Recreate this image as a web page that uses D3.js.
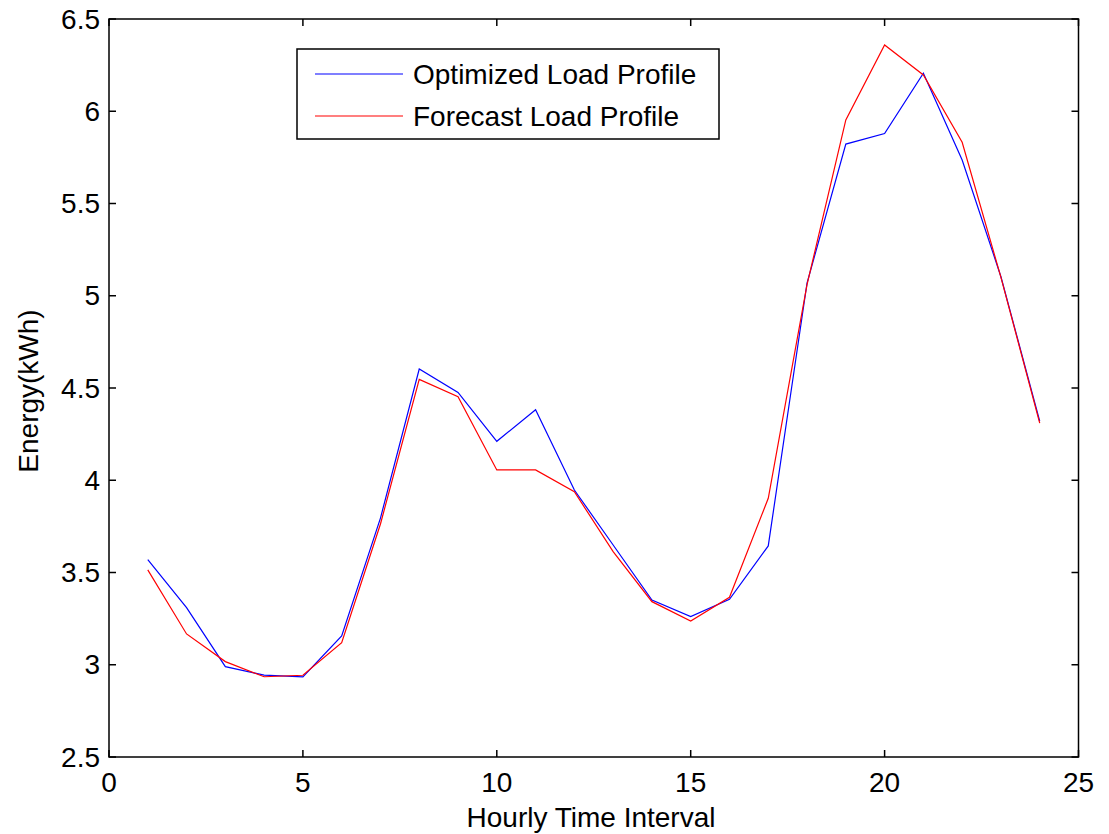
<!DOCTYPE html>
<html><head><meta charset="utf-8">
<script src="https://cdn.jsdelivr.net/npm/d3@7"></script>
<style>body{margin:0;background:#fff;} svg{display:block;font-family:"Liberation Sans",Arial,sans-serif;}</style>
</head><body>
<svg id="c" width="1109" height="834"></svg>
<script>
const hours = [1,2,3,4,5,6,7,8,9,10,11,12,13,14,15,16,17,18,19,20,21,22,23,24];
const optimized = [3.57,3.31,2.99,2.944,2.934,3.156,3.795,4.603,4.476,4.211,4.382,3.947,3.649,3.351,3.261,3.355,3.644,5.069,5.822,5.879,6.206,5.736,5.103,4.32];
const forecast  = [3.514,3.167,3.017,2.935,2.943,3.12,3.763,4.547,4.453,4.056,4.056,3.938,3.613,3.342,3.237,3.366,3.902,5.06,5.953,6.359,6.197,5.832,5.10,4.31];
const xTicks = [0,5,10,15,20,25];
const yTicks = [2.5,3,3.5,4,4.5,5,5.5,6,6.5];
const seriesNames = ["Optimized Load Profile","Forecast Load Profile"];
const seriesColors = ["#0000ff","#ff0000"];

const svg = d3.select("#c");
const L=109, R=1078.5, T=19, B=757;
const x = d3.scaleLinear().domain([0,25]).range([L,R]);
const y = d3.scaleLinear().domain([2.5,6.5]).range([B,T]);
const tl = 7, fs = 28;

// box
svg.append("rect").attr("x",L).attr("y",T).attr("width",R-L).attr("height",B-T)
  .attr("fill","none").attr("stroke","#000").attr("stroke-width",1.5);

// ticks
const g = svg.append("g").attr("stroke","#000").attr("stroke-width",1.5);
xTicks.forEach(t=>{
  g.append("line").attr("x1",x(t)).attr("x2",x(t)).attr("y1",B).attr("y2",B-tl);
  g.append("line").attr("x1",x(t)).attr("x2",x(t)).attr("y1",T).attr("y2",T+tl);
});
yTicks.forEach(t=>{
  g.append("line").attr("x1",L).attr("x2",L+tl).attr("y1",y(t)).attr("y2",y(t));
  g.append("line").attr("x1",R).attr("x2",R-tl).attr("y1",y(t)).attr("y2",y(t));
});
svg.append("g").selectAll("text").data(xTicks).join("text")
  .attr("x",d=>x(d)).attr("y",792).attr("text-anchor","middle").attr("font-size",fs).text(d=>d);
svg.append("g").selectAll("text").data(yTicks).join("text")
  .attr("x",L-9).attr("y",d=>y(d)+9.5).attr("text-anchor","end").attr("font-size",fs).text(d=>d);

svg.append("text").attr("x",591).attr("y",827).attr("text-anchor","middle").attr("font-size",fs).text("Hourly Time Interval");
svg.append("text").attr("transform","translate(38,391) rotate(-90)").attr("text-anchor","middle").attr("font-size",fs).text("Energy(kWh)");

const line = d3.line().x((d,i)=>x(hours[i])).y(d=>y(d));
[optimized,forecast].forEach((s,k)=>{
  svg.append("path").datum(s).attr("d",line).attr("fill","none")
    .attr("stroke",seriesColors[k]).attr("stroke-width",1.2);
});

// legend
const lg = svg.append("g");
lg.append("rect").attr("x",297).attr("y",49).attr("width",422).attr("height",90)
  .attr("fill","#fff").attr("stroke","#000").attr("stroke-width",1.5);
seriesNames.forEach((n,k)=>{
  const cy = 74 + k*42;
  lg.append("line").attr("x1",315).attr("x2",403).attr("y1",cy).attr("y2",cy).attr("stroke",seriesColors[k]).attr("stroke-width",1.2);
  lg.append("text").attr("x",413).attr("y",cy+10).attr("font-size",fs).text(n);
});
</script>
</body></html>
